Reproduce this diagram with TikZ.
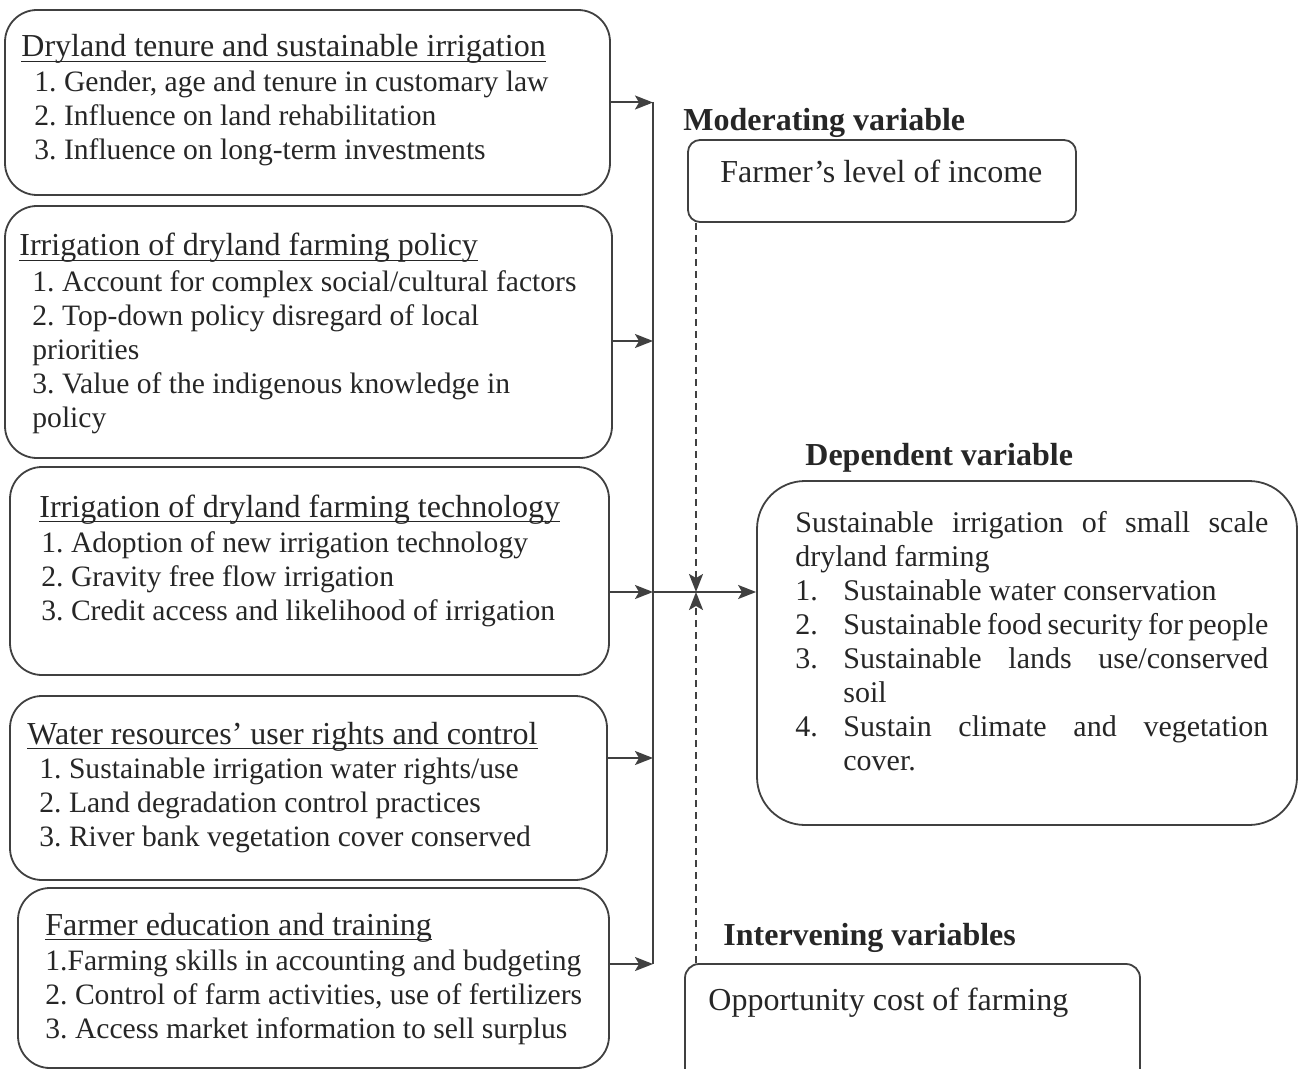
\documentclass[tikz,border=0pt]{standalone}
\usepackage{fontspec}
\setmainfont{Liberation Serif}
\usetikzlibrary{positioning,arrows.meta,fit}
\tikzset{>={Stealth[length=9pt,width=7pt,inset=2pt]}}
\newcommand{\headul}[1]{\setbox0\hbox{#1}\rlap{\rule[-2.5pt]{\wd0}{0.6pt}}\box0}
\newcommand{\lines}[1]{\begin{tabular}[t]{@{}l@{}}#1\end{tabular}}
\newcommand{\ditem}[2]{\par\hangindent=24pt\noindent\makebox[24pt][l]{#1}#2\par}
\frenchspacing

\begin{document}
\begin{tikzpicture}[x=0.5pt, y=-0.5pt,
    lbox/.style={draw=black!75, line width=0.9pt, rounded corners=16pt, inner sep=0pt},
    rbox/.style={draw=black!75, line width=0.9pt, inner sep=0pt},
    head/.style={anchor=base west, inner sep=0pt, text=black!85, font=\fontsize{16}{17}\selectfont},
    items/.style={anchor=base west, inner sep=0pt, text=black!85, font=\fontsize{14.8}{17}\selectfont},
    title/.style={anchor=base west, inner sep=0pt, text=black!85, font=\fontsize{16}{17}\selectfont\bfseries},
    wire/.style={draw=black!75, line width=1pt},
    arr/.style={wire, ->},
    dasharr/.style={arr, dash pattern=on 3.5pt off 2.5pt}]
  \clip (0,0) rectangle (1299,1069);

  % independent variables
  \node[lbox, fit={(5,10) (610,195)}] (tenure) {};
  \node[lbox, fit={(5,206) (612,458)}] (policy) {};
  \node[lbox, fit={(10,467) (609,675)}] (tech) {};
  \node[lbox, fit={(10,696) (607,880)}] (water) {};
  \node[lbox, fit={(18,888) (609,1068)}] (edu) {};

  \node[head] (tenureH) at (21,57) {\headul{Dryland tenure and sustainable irrigation}};
  \node[items] (tenureL) at (34,92) {\lines{1. Gender, age and tenure in customary law\\
      2. Influence on land rehabilitation\\
      3. Influence on long-term investments}};

  \node[head] (policyH) at (19,256) {\headul{Irrigation of dryland farming policy}};
  \node[items] (policyL) at (32,292) {\lines{1. Account for complex social/cultural factors\\
      2. Top-down policy disregard of local\\
      priorities\\
      3. Value of the indigenous knowledge in\\
      policy}};

  \node[head] (techH) at (39,517) {\headul{Irrigation of dryland farming technology}};
  \node[items] (techL) at (41,552) {\lines{1. Adoption of new irrigation technology\\
      2. Gravity free flow irrigation\\
      3. Credit access and likelihood of irrigation}};

  \node[head] (waterH) at (27,744) {\headul{Water resources’ user rights and control}};
  \node[items] (waterL) at (39,778) {\lines{1. Sustainable irrigation water rights/use\\
      2. Land degradation control practices\\
      3. River bank vegetation cover conserved}};

  \node[head] (eduH) at (45,935) {\headul{Farmer education and training}};
  \node[items] (eduL) at (45,970) {\lines{1.Farming skills in accounting and budgeting\\
      2. Control of farm activities, use of fertilizers\\
      3. Access market information to sell surplus}};

  % moderating, dependent and intervening variables
  \node[title] (modH) at (683,131) {Moderating variable};
  \node[rbox, rounded corners=6pt, fit={(688,140) (1076,222)}] (mod) {};
  \node[head] (modT) at (720,183) {Farmer’s level of income};

  \node[title] (depH) at (805,465) {Dependent variable};
  \node[rbox, rounded corners=24pt, fit={(757,481) (1297,825)}] (dep) {};
  \node[items, font=\fontsize{15}{17}\selectfont] (depT) at (795,532) {\parbox[t]{236.5pt}{\parindent=0pt
      Sustainable irrigation of small scale\linebreak dryland farming\par
      \ditem{1.}{Sustainable water conservation}
      \ditem{2.}{Sustainable food security for people}
      \ditem{3.}{Sustainable lands use/conserved\linebreak soil}
      \ditem{4.}{Sustain climate and vegetation\linebreak cover.}}};

  \node[title] (interH) at (723,945) {Intervening variables};
  \node[rbox, rounded corners=7pt, fit={(685,964) (1140,1090)}] (inter) {};
  \node[head] (interT) at (708,1010) {Opportunity cost of farming};

  % connectors
  \coordinate (busTop) at (653,102);
  \coordinate (busBot) at (653,964);
  \coordinate (inPolicy) at (653,341);
  \coordinate (junct) at (653,592);
  \coordinate (inWater) at (653,758);
  \coordinate (meet) at (696,592);
  \draw[wire] (busTop) -- (busBot);
  \draw[arr] (tenure.east) -- (tenure.east -| busTop);
  \draw[arr] (policy.east |- inPolicy) -- (inPolicy);
  \draw[arr] (tech.east |- junct) -- (junct);
  \draw[arr] (water.east |- inWater) -- (inWater);
  \draw[arr] (edu.east |- busBot) -- (busBot);
  \draw[arr] (junct) -- (dep.west |- junct);
  \draw[dasharr] (meet |- mod.south) -- (meet);
  \draw[dasharr] (meet |- inter.north) -- (meet);
\end{tikzpicture}
\end{document}
